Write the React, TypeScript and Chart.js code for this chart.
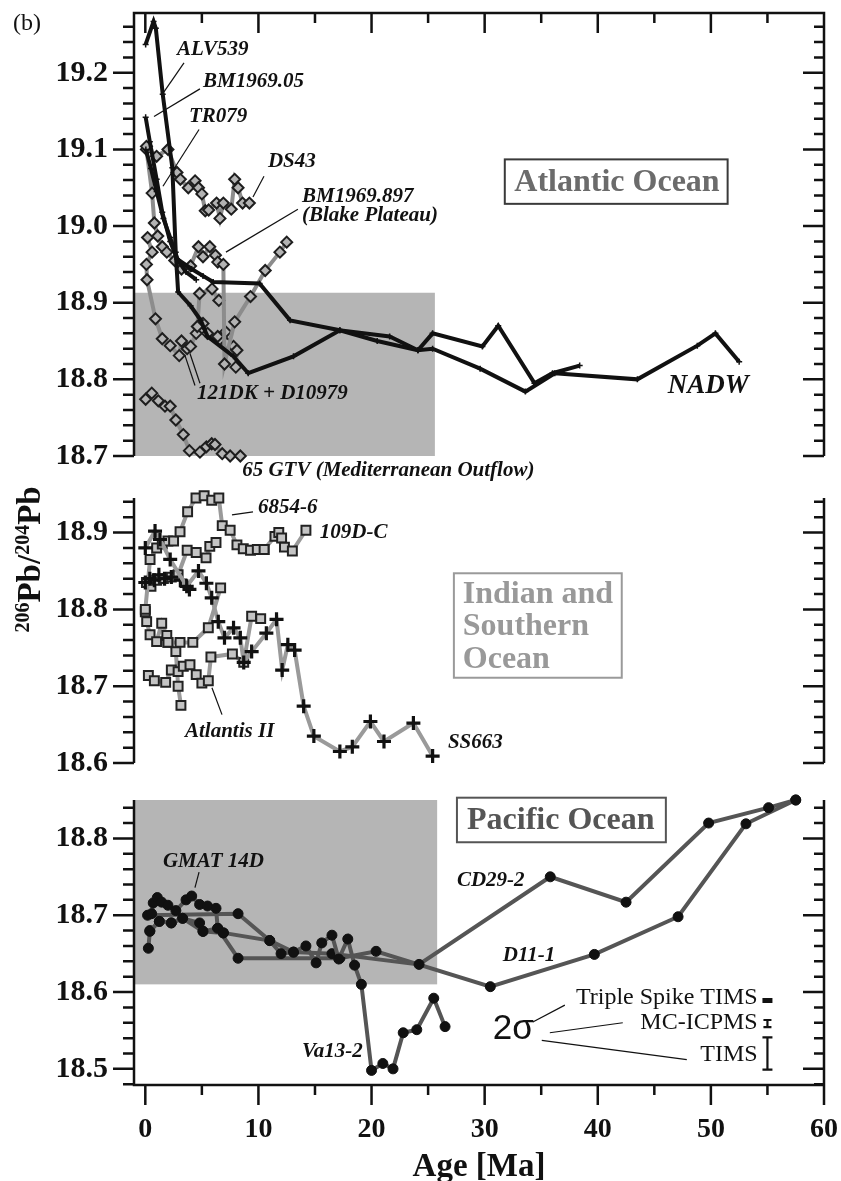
import React, { useEffect, useRef } from 'react';
import { Chart, registerables } from 'chart.js';

Chart.register(...registerables);

const SERIF = '"Liberation Serif", "Times New Roman", serif';
const SANS = '"Liberation Sans", Arial, sans-serif';

// ---------- shared axis values ----------
const ageTicks = [0, 10, 20, 30, 40, 50, 60];
const atlanticTicks = [18.7, 18.8, 18.9, 19.0, 19.1, 19.2];
const indianTicks = [18.6, 18.7, 18.8, 18.9];
const pacificTicks = [18.5, 18.6, 18.7, 18.8];

// ---------- Atlantic Ocean ----------
const alv539Age = [0.03, 0.73, 0.93, 1.54, 2.39, 2.69, 2.9, 4.0, 4.9, 5.5, 7.8, 9.1, 13.1, 17.2, 21.6, 24.1, 25.4, 29.6, 33.6, 36.2, 43.5, 48.8, 50.4, 52.5];
const alv539Pb = [19.237, 19.267, 19.258, 19.172, 19.076, 18.966, 18.914, 18.896, 18.877, 18.856, 18.83, 18.808, 18.83, 18.864, 18.856, 18.838, 18.84, 18.814, 18.784, 18.808, 18.8, 18.844, 18.86, 18.823];

const bm196905Age = [0.03, 0.4, 1.0, 1.5, 2.2, 2.8, 4.1, 5.1, 6.0, 10.1, 12.8, 17.2, 20.5, 24.1, 25.4, 29.8, 31.2, 34.4, 36.0, 38.4];
const bm196905Pb = [19.142, 19.11, 19.061, 19.018, 18.98, 18.957, 18.944, 18.935, 18.927, 18.925, 18.877, 18.864, 18.85, 18.838, 18.86, 18.843, 18.87, 18.795, 18.808, 18.818];

const tr079Age = [0.05, 0.5, 1.0, 1.6, 2.2, 2.9, 3.6, 4.5];
const tr079Pb = [19.1, 19.075, 19.045, 19.01, 18.985, 18.955, 18.94, 18.93];

const ds43Age = [0.1, 1.0, 2.0, 2.8, 3.1, 3.8, 4.4, 4.7, 5.0, 5.3, 5.6, 6.3, 6.6, 6.9, 7.6, 7.9, 8.2, 8.6, 9.2];
const ds43Pb = [19.104, 19.091, 19.1, 19.07, 19.061, 19.05, 19.059, 19.05, 19.042, 19.02, 19.021, 19.03, 19.01, 19.03, 19.022, 19.061, 19.05, 19.03, 19.03];

const blakeAge = [0.1, 0.6, 0.8, 1.1, 1.5, 1.9, 2.6, 3.2, 4.0, 4.7, 5.1, 5.7, 6.2, 6.4, 6.9, 7.0, 7.9, 9.3, 10.6, 11.9, 12.5];
const blakePb = [19.1, 19.043, 19.004, 18.987, 18.973, 18.966, 18.955, 18.944, 18.948, 18.973, 18.96, 18.973, 18.962, 18.953, 18.95, 18.82, 18.875, 18.908, 18.942, 18.966, 18.979];

const dk121Age = [0.2, 0.6, 0.1, 0.15, 0.9, 1.5, 2.2, 3.0, 3.2, 3.7, 4.0, 4.5, 4.6, 4.8, 5.9, 6.5];
const dk121Pb = [18.985, 18.966, 18.95, 18.93, 18.879, 18.853, 18.844, 18.831, 18.85, 18.84, 18.843, 18.86, 18.869, 18.912, 18.918, 18.903];

const d10979Age = [5.1, 5.5, 6.4, 7.1, 7.2, 7.8, 8.1, 8.0];
const d10979Pb = [18.873, 18.86, 18.856, 18.862, 18.847, 18.843, 18.838, 18.816];

const gtv65Age = [0.03, 0.57, 1.15, 1.74, 2.2, 2.7, 3.36, 3.9, 4.83, 5.4, 5.87, 6.16, 6.8, 7.5, 8.4];
const gtv65Pb = [18.774, 18.782, 18.772, 18.765, 18.765, 18.747, 18.728, 18.707, 18.705, 18.712, 18.716, 18.715, 18.703, 18.7, 18.7];

// ---------- Indian and Southern Ocean ----------
const d6854Age = [0.0, 0.42, 1.0, 1.5, 2.0, 2.5, 3.07, 3.74, 4.48, 5.2, 5.87, 6.5, 6.8, 7.5, 8.1, 8.66, 9.3, 9.9, 10.5];
const d6854Pb = [18.8, 18.865, 18.88, 18.885, 18.889, 18.889, 18.901, 18.927, 18.945, 18.948, 18.942, 18.945, 18.909, 18.903, 18.884, 18.879, 18.877, 18.878, 18.878];

const d109Age = [10.5, 11.46, 11.8, 12.05, 12.3, 13.0, 14.2];
const d109Pb = [18.878, 18.895, 18.9, 18.893, 18.881, 18.876, 18.903];

const sqMidAge = [0.1, 0.5, 1.0, 1.6, 2.3, 2.9, 3.7, 4.5, 5.37, 5.7, 6.25];
const sqMidPb = [18.835, 18.83, 18.838, 18.84, 18.842, 18.845, 18.877, 18.874, 18.867, 18.882, 18.887];

const sqLowAge = [0.0, 0.12, 0.42, 1.0, 1.45, 1.9, 2.0, 3.07, 4.2, 5.57, 6.66];
const sqLowPb = [18.797, 18.784, 18.767, 18.758, 18.782, 18.766, 18.757, 18.757, 18.757, 18.776, 18.828];

const atlantisAge = [0.27, 0.8, 1.8, 2.3, 2.9, 3.36, 3.95, 4.5, 5.0, 5.57, 5.8, 7.7, 8.7, 9.4, 10.2];
const atlantisPb = [18.714, 18.707, 18.705, 18.721, 18.719, 18.726, 18.728, 18.715, 18.704, 18.707, 18.738, 18.742, 18.731, 18.791, 18.788];

const atlantisBAge = [2.0, 2.7, 2.9, 3.15];
const atlantisBPb = [18.757, 18.745, 18.7, 18.675];

const ss663Age = [0.0, 0.86, 1.3, 2.2, 3.66, 4.7, 5.4, 5.87, 6.45, 7.0, 7.8, 8.4, 8.7, 9.4, 10.7, 11.6, 12.1, 12.6, 13.2, 14.0, 14.9, 17.2, 18.3, 19.9, 21.1, 23.7, 25.4];
const ss663Pb = [18.88, 18.902, 18.891, 18.865, 18.83, 18.85, 18.834, 18.815, 18.784, 18.763, 18.776, 18.763, 18.731, 18.745, 18.769, 18.787, 18.721, 18.754, 18.747, 18.674, 18.635, 18.615, 18.621, 18.654, 18.628, 18.652, 18.609];

const plusBAge = [0.0, 0.4, 0.8, 1.2, 1.7, 2.3, 3.1, 3.9];
const plusBPb = [18.835, 18.84, 18.838, 18.845, 18.84, 18.842, 18.838, 18.826];

// ---------- Pacific Ocean ----------
const gmatAge = [0.56, 0.7, 1.06, 1.45, 2.0, 2.7, 3.6, 4.1, 4.8, 5.5, 6.25, 6.4, 6.9];
const gmatPb = [18.702, 18.716, 18.723, 18.717, 18.713, 18.706, 18.72, 18.725, 18.714, 18.712, 18.709, 18.683, 18.677];

const va13Age = [0.27, 0.4, 1.24, 2.3, 3.3, 4.8, 5.1, 6.9, 11.0, 12.0, 13.1, 14.2, 15.1, 15.6, 16.5, 17.1, 17.9, 18.5, 19.1, 20.0, 21.0, 21.9, 22.8, 24.0, 25.5, 26.5];
const va13Pb = [18.657, 18.679, 18.692, 18.69, 18.696, 18.69, 18.679, 18.677, 18.667, 18.65, 18.652, 18.66, 18.638, 18.664, 18.674, 18.643, 18.669, 18.635, 18.61, 18.498, 18.507, 18.5, 18.547, 18.551, 18.592, 18.555];

const cd29Age = [0.2, 8.2, 11.0, 13.1, 16.5, 24.2, 35.8, 42.5, 49.8, 55.1, 57.5];
const cd29Pb = [18.7, 18.702, 18.667, 18.652, 18.65, 18.636, 18.75, 18.717, 18.82, 18.84, 18.85];

const d11Age = [0.4, 1.24, 2.3, 3.3, 5.1, 6.4, 8.2, 17.2, 20.4, 30.5, 39.7, 47.1, 53.1, 57.5];
const d11Pb = [18.68, 18.692, 18.69, 18.696, 18.679, 18.683, 18.644, 18.644, 18.653, 18.607, 18.649, 18.698, 18.819, 18.85];

// 2-sigma reproducibility bars (centre, half-width)
const sigmaNames = ['Triple Spike TIMS', 'MC-ICPMS', 'TIMS'];
const sigmaCentre = [18.589, 18.559, 18.52];
const sigmaHalf = [0.0026, 0.0046, 0.021];

// ---------- helpers ----------
const pts = (a: number[], v: number[]) => a.map((x, i) => ({ x, y: v[i] }));

const blackLine = (label: string, a: number[], v: number[]) => ({
  label, data: pts(a, v), borderColor: '#111', borderWidth: 4,
  pointStyle: 'cross', pointRadius: 3, pointBorderWidth: 1.5, pointBorderColor: '#111', tension: 0,
});
const diamondLine = (label: string, a: number[], v: number[]) => ({
  label, data: pts(a, v), borderColor: '#8c8c8c', borderWidth: 4,
  pointStyle: 'rectRot', pointRadius: 5.5, pointBorderWidth: 2, pointBorderColor: '#1e1e1e', pointBackgroundColor: '#b3b3b3', tension: 0,
});
const squareLine = (label: string, a: number[], v: number[]) => ({
  label, data: pts(a, v), borderColor: '#9a9a9a', borderWidth: 4,
  pointStyle: 'rect', pointRadius: 6.3, pointBorderWidth: 2, pointBorderColor: '#222', pointBackgroundColor: '#c4c4c4', tension: 0,
});
const plusLine = (label: string, a: number[], v: number[]) => ({
  label, data: pts(a, v), borderColor: '#9a9a9a', borderWidth: 4,
  pointStyle: 'cross', pointRadius: 7, pointBorderWidth: 3.2, pointBorderColor: '#111', tension: 0,
});
const dotLine = (label: string, a: number[], v: number[]) => ({
  label, data: pts(a, v), borderColor: '#555', borderWidth: 4,
  pointStyle: 'circle', pointRadius: 5, pointBorderWidth: 1, pointBorderColor: '#111', pointBackgroundColor: '#111', tension: 0,
});

type Ctx = CanvasRenderingContext2D;
type Map2 = (x: number, y: number) => [number, number];

function text(ctx: Ctx, s: string, p: [number, number], font: string, color = '#111', align: CanvasTextAlign = 'left') {
  ctx.font = font; ctx.fillStyle = color; ctx.textAlign = align; ctx.textBaseline = 'middle';
  ctx.fillText(s, p[0], p[1]);
}
function seg(ctx: Ctx, a: [number, number], b: [number, number], w = 1.2, color = '#111') {
  ctx.strokeStyle = color; ctx.lineWidth = w; ctx.beginPath(); ctx.moveTo(a[0], a[1]); ctx.lineTo(b[0], b[1]); ctx.stroke();
}
function box(ctx: Ctx, p0: [number, number], p1: [number, number], color: string) {
  ctx.strokeStyle = color; ctx.lineWidth = 2;
  ctx.strokeRect(p0[0], p0[1], p1[0] - p0[0], p1[1] - p0[1]);
}

const LBL = `italic bold 21px ${SERIF}`;
const BOXF = `bold 32px ${SERIF}`;

interface Panel {
  top: number; height: number; padTop: number; padBottom: number;
  yMin: number; yMax: number; yTicks: number[];
  datasets: any[];
  shade?: [number, number, number, number];
  topAxis?: boolean; bottomAxis?: boolean;
  notes: (ctx: Ctx, P: Map2) => void;
}

const panels: Panel[] = [
  {
    top: -40, height: 540, padTop: 53, padBottom: 42,
    yMin: 18.7, yMax: 19.278, yTicks: atlanticTicks, topAxis: true,
    shade: [-1, 25.6, 18.7, 18.913],
    datasets: [
      blackLine('ALV539', alv539Age, alv539Pb),
      blackLine('BM1969.05', bm196905Age, bm196905Pb),
      blackLine('TR079', tr079Age, tr079Pb),
      diamondLine('DS43', ds43Age, ds43Pb),
      diamondLine('BM1969.897', blakeAge, blakePb),
      diamondLine('121DK', dk121Age, dk121Pb),
      diamondLine('D10979', d10979Age, d10979Pb),
      diamondLine('65 GTV', gtv65Age, gtv65Pb),
    ],
    notes: (ctx, P) => {
      text(ctx, '(b)', P(-11.7, 19.264), `24px ${SERIF}`);
      text(ctx, 'ALV539', P(2.8, 19.23), LBL);
      seg(ctx, P(3.42, 19.213), P(1.65, 19.175));
      text(ctx, 'BM1969.05', P(5.11, 19.188), LBL);
      seg(ctx, P(4.83, 19.179), P(0.77, 19.143));
      text(ctx, 'TR079', P(3.86, 19.143), LBL);
      seg(ctx, P(4.75, 19.126), P(1.56, 19.052));
      text(ctx, 'DS43', P(10.84, 19.084), LBL);
      seg(ctx, P(10.49, 19.065), P(9.52, 19.038));
      text(ctx, 'BM1969.897', P(13.85, 19.039), LBL);
      text(ctx, '(Blake Plateau)', P(13.85, 19.014), LBL);
      seg(ctx, P(13.49, 19.022), P(7.13, 18.966));
      text(ctx, '121DK + D10979', P(4.57, 18.782), LBL);
      seg(ctx, P(3.51, 18.831), P(4.39, 18.792));
      seg(ctx, P(3.94, 18.834), P(4.83, 18.795));
      text(ctx, '65 GTV (Mediterranean Outflow)', P(8.56, 18.681), LBL);
      text(ctx, 'NADW', P(46.19, 18.791), `italic bold 27px ${SERIF}`);
      box(ctx, P(31.78, 19.087), P(51.48, 19.029), '#3a3a3a');
      text(ctx, 'Atlantic Ocean', P(41.7, 19.057), BOXF, '#6b6b6b', 'center');
    },
  },
  {
    top: 440, height: 380, padTop: 58, padBottom: 57,
    yMin: 18.6, yMax: 18.945, yTicks: indianTicks,
    datasets: [
      plusLine('SS663', ss663Age, ss663Pb),
      plusLine('SS663b', plusBAge, plusBPb),
      squareLine('6854-6', d6854Age, d6854Pb),
      squareLine('109D-C', d109Age, d109Pb),
      squareLine('mid', sqMidAge, sqMidPb),
      squareLine('low', sqLowAge, sqLowPb),
      squareLine('Atlantis II', atlantisAge, atlantisPb),
      squareLine('Atlantis IIb', atlantisBAge, atlantisBPb),
    ],
    notes: (ctx, P) => {
      text(ctx, '6854-6', P(9.96, 18.933), LBL);
      seg(ctx, P(7.66, 18.923), P(9.52, 18.927));
      text(ctx, '109D-C', P(15.43, 18.9), LBL);
      text(ctx, 'Atlantis II', P(3.51, 18.641), LBL);
      seg(ctx, P(6.78, 18.663), P(5.89, 18.698));
      text(ctx, 'SS663', P(26.75, 18.626), LBL);
      box(ctx, P(27.28, 18.847), P(42.12, 18.711), '#9a9a9a');
      text(ctx, 'Indian and', P(28.07, 18.819), BOXF, '#999');
      text(ctx, 'Southern', P(28.07, 18.777), BOXF, '#999');
      text(ctx, 'Ocean', P(28.07, 18.734), BOXF, '#999');
      // rotated axis title with superscript mass numbers
      const c = P(-10.28, 18.865);
      ctx.save();
      ctx.translate(c[0], c[1]);
      ctx.rotate(-Math.PI / 2);
      const big = `bold 33px ${SERIF}`;
      const sup = `bold 20px ${SERIF}`;
      const parts: [string, string, number][] = [['206', sup, -11], ['Pb/', big, 0], ['204', sup, -11], ['Pb', big, 0]];
      let w = 0;
      parts.forEach(([s, f]) => { ctx.font = f; w += ctx.measureText(s).width; });
      let x0 = -w / 2;
      ctx.fillStyle = '#111'; ctx.textAlign = 'left'; ctx.textBaseline = 'alphabetic';
      parts.forEach(([s, f, dy]) => { ctx.font = f; ctx.fillText(s, x0, 11 + dy); x0 += ctx.measureText(s).width; });
      ctx.restore();
    },
  },
  {
    top: 740, height: 449, padTop: 60, padBottom: 0,
    yMin: 18.479, yMax: 18.85, yTicks: pacificTicks, bottomAxis: true,
    shade: [-1, 25.8, 18.61, 18.85],
    datasets: [
      dotLine('GMAT 14D', gmatAge, gmatPb),
      dotLine('Va13-2', va13Age, va13Pb),
      dotLine('CD29-2', cd29Age, cd29Pb),
      dotLine('D11-1', d11Age, d11Pb),
    ],
    notes: (ctx, P) => {
      box(ctx, P(27.55, 18.853), P(46.02, 18.795), '#555');
      text(ctx, 'Pacific Ocean', P(36.73, 18.823), BOXF, '#555', 'center');
      text(ctx, 'GMAT 14D', P(1.56, 18.77), LBL);
      seg(ctx, P(4.75, 18.756), P(4.39, 18.736));
      text(ctx, 'CD29-2', P(27.55, 18.745), LBL);
      text(ctx, 'D11-1', P(31.6, 18.647), LBL);
      text(ctx, 'Va13-2', P(13.85, 18.523), LBL);
      // 2-sigma legend
      const lx = 54.14;
      const barX = 55.0;
      sigmaNames.forEach((n, i) => {
        const yy = i === 0 ? 18.593 : i === 1 ? 18.56 : 18.518;
        text(ctx, n, P(lx, yy), `24px ${SERIF}`, '#111', 'right');
      });
      text(ctx, '2σ', P(30.72, 18.551), `35px ${SANS}`);
      seg(ctx, P(34.26, 18.561), P(37.09, 18.583));
      seg(ctx, P(35.76, 18.547), P(42.21, 18.56));
      seg(ctx, P(35.05, 18.537), P(47.87, 18.512));
      sigmaCentre.forEach((cv, i) => {
        const t = P(barX, cv + sigmaHalf[i]);
        const b = P(barX, cv - sigmaHalf[i]);
        ctx.strokeStyle = '#111'; ctx.lineWidth = 2.2;
        if (i === 0) {
          ctx.fillStyle = '#111';
          ctx.fillRect(t[0] - 5, t[1] - 0.5, 10, b[1] - t[1] + 1);
        } else {
          const cap = i === 1 ? 4 : 5;
          ctx.beginPath();
          ctx.moveTo(t[0], t[1]); ctx.lineTo(b[0], b[1]);
          ctx.moveTo(t[0] - cap, t[1]); ctx.lineTo(t[0] + cap, t[1]);
          ctx.moveTo(b[0] - cap, b[1]); ctx.lineTo(b[0] + cap, b[1]);
          ctx.stroke();
        }
      });
    },
  },
];

function frame(chart: any, p: Panel) {
  const { ctx, chartArea: a, scales } = chart;
  const xs = scales.x, ys = scales.y;
  ctx.save();
  ctx.strokeStyle = '#111'; ctx.lineWidth = 2.5; ctx.lineCap = 'butt';
  ctx.beginPath();
  ctx.moveTo(a.left, a.top); ctx.lineTo(a.left, a.bottom);
  ctx.moveTo(a.right, a.top); ctx.lineTo(a.right, a.bottom);
  if (p.topAxis) { ctx.moveTo(a.left - 1.25, a.top); ctx.lineTo(a.right + 1.25, a.top); }
  if (p.bottomAxis) { ctx.moveTo(a.left - 1.25, a.bottom); ctx.lineTo(a.right + 1.25, a.bottom); }
  const n0 = Math.ceil(p.yMin / 0.02 - 1e-6), n1 = Math.floor(p.yMax / 0.02 + 1e-6);
  for (let n = n0; n <= n1; n++) {
    const yy = ys.getPixelForValue(n * 0.02);
    const major = n % 5 === 0;
    ctx.moveTo(a.left, yy); ctx.lineTo(a.left - (major ? 21 : 11), yy);
    ctx.moveTo(a.right, yy); ctx.lineTo(a.right - (major ? 21 : 10), yy);
  }
  for (let v = 0; v <= 60; v += 5) {
    const xx = xs.getPixelForValue(v);
    const major = v % 10 === 0;
    if (p.topAxis) { ctx.moveTo(xx, a.top); ctx.lineTo(xx, a.top + (major ? 20 : 10)); }
    if (p.bottomAxis) { ctx.moveTo(xx, a.bottom); ctx.lineTo(xx, a.bottom + (major ? 20 : 10)); }
  }
  ctx.stroke();
  ctx.restore();
}

function PanelChart({ p }: { p: Panel }) {
  const ref = useRef<HTMLCanvasElement | null>(null);
  useEffect(() => {
    if (!ref.current) return;
    const deco = {
      id: 'panelDeco',
      beforeDatasetsDraw(chart: any) {
        if (!p.shade) return;
        const { ctx, scales } = chart;
        const [x0, x1, y0, y1] = p.shade;
        const L = scales.x.getPixelForValue(x0), R = scales.x.getPixelForValue(x1);
        const T = scales.y.getPixelForValue(y1), B = scales.y.getPixelForValue(y0);
        ctx.save(); ctx.fillStyle = '#b5b5b5'; ctx.fillRect(L, T, R - L, B - T); ctx.restore();
      },
      afterDatasetsDraw(chart: any) {
        frame(chart, p);
        const { ctx, scales } = chart;
        const P: Map2 = (x, y) => [scales.x.getPixelForValue(x), scales.y.getPixelForValue(y)];
        ctx.save();
        p.notes(ctx, P);
        ctx.restore();
      },
    };
    const chart = new Chart(ref.current, {
      type: 'line',
      data: { datasets: p.datasets.map((d) => ({ ...d, fill: false, clip: false })) },
      options: {
        animation: false, responsive: false, maintainAspectRatio: false, events: [],
        layout: { padding: { top: p.padTop, bottom: p.padBottom, left: 0, right: 76 } },
        plugins: { legend: { display: false }, tooltip: { enabled: false } },
        scales: {
          x: {
            type: 'linear', min: -1, max: 60, display: !!p.bottomAxis, position: 'bottom',
            grid: { display: false, drawTicks: false }, border: { display: false },
            afterBuildTicks: (s: any) => { s.ticks = ageTicks.map((value) => ({ value })); },
            afterFit: (s: any) => { s.height = p.bottomAxis ? 104 : 0; },
            ticks: { font: { family: SERIF, size: 28, weight: 'bold' }, color: '#111', padding: 28, maxRotation: 0, autoSkip: false },
            title: { display: true, text: 'Age [Ma]', font: { family: SERIF, size: 33, weight: 'bold' }, color: '#111', padding: { top: 0, bottom: 2 } },
          },
          y: {
            type: 'linear', min: p.yMin, max: p.yMax, position: 'left',
            grid: { display: false, drawTicks: false }, border: { display: false },
            afterBuildTicks: (s: any) => { s.ticks = p.yTicks.map((value) => ({ value })); },
            afterFit: (s: any) => { s.width = 134; },
            ticks: {
              font: { family: SERIF, size: 30, weight: 'bold' }, color: '#111', padding: 26,
              callback: (v: any) => Number(v).toFixed(1),
            },
          },
        },
      },
      plugins: [deco],
    } as any);
    return () => chart.destroy();
  }, [p]);
  return (
    <canvas
      ref={ref}
      width={900}
      height={p.height}
      style={{ position: 'absolute', left: 0, top: p.top, width: 900, height: p.height }}
    />
  );
}

export default function App() {
  return (
    <div style={{ position: 'absolute', left: 0, top: 0, width: 841, height: 1181, overflow: 'hidden', background: '#fff' }}>
      {panels.map((p, i) => (
        <PanelChart key={i} p={p} />
      ))}
    </div>
  );
}
